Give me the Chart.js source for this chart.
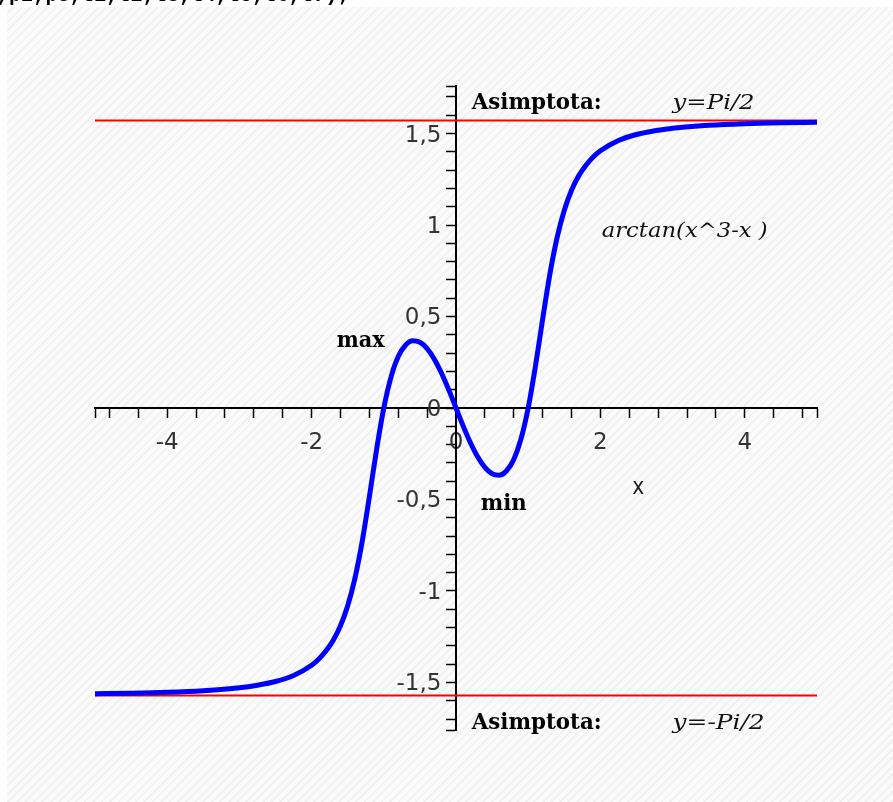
<!DOCTYPE html>
<html>
<head>
<meta charset="utf-8">
<script src="https://cdn.jsdelivr.net/npm/chart.js@4.4.0/dist/chart.umd.min.js"></script>
<style>
  html, body { margin: 0; padding: 0; background: #fff; overflow: hidden; }
  #panel {
    position: absolute; left: 7px; top: 7px; width: 886px; height: 795px;
    background: repeating-linear-gradient(135deg, #fbfbfb 0px, #fbfbfb 4px, #f1f1f1 4px, #f1f1f1 6px);
  }
  #cmd {
    position: absolute; left: -125px; top: -14px; white-space: pre;
    font: bold 20.3px "Liberation Mono", monospace; line-height: 20px; color: #000; z-index: 2;
  }
  #plot { position: absolute; left: 0; top: 0; z-index: 1; }
</style>
</head>
<body>
<div id="panel"></div>
<div id="cmd">display(p1,p2,p3,t1,t2,t3,t4,t5,t6,t7);</div>
<canvas id="plot" width="893" height="802"></canvas>
<script>
// ---------------- DATOS ----------------
const curveX = [-5, -4.5, -4, -3.5, -3, -2.75, -2.5, -2.25, -2, -1.9, -1.8, -1.7, -1.6, -1.5, -1.4, -1.3, -1.2, -1.1, -1,
  -0.9, -0.8, -0.7, -0.6, -0.5, -0.4, -0.3, -0.2, -0.1, 0, 0.1, 0.2, 0.3, 0.4, 0.5, 0.6, 0.7, 0.8, 0.9,
  1, 1.1, 1.2, 1.3, 1.4, 1.5, 1.6, 1.7, 1.8, 1.9, 2, 2.25, 2.5, 2.75, 3, 3.5, 4, 4.5, 5];
const curveY = [-1.562, -1.559, -1.554, -1.545, -1.529, -1.515, -1.495, -1.462, -1.406, -1.372, -1.327, -1.269, -1.190, -1.081, -0.931, -0.731, -0.486, -0.227, 0,
  0.169, 0.281, 0.343, 0.367, 0.359, 0.325, 0.267, 0.190, 0.099, 0, -0.099, -0.190, -0.267, -0.325, -0.359, -0.367, -0.343, -0.281, -0.169,
  0, 0.227, 0.486, 0.731, 0.931, 1.081, 1.190, 1.269, 1.327, 1.372, 1.406, 1.462, 1.495, 1.515, 1.529, 1.545, 1.554, 1.559, 1.562];

const asymptoteX = [-5, 5];
const asymptoteTop = 1.5708;     // y = Pi/2
const asymptoteBottom = -1.5708; // y = -Pi/2

const xRange = [-5, 5];
const yRange = [-1.76, 1.76];
const xLabelTicks = [-4, -2, 0, 2, 4];
const yLabelTicks = [-1.5, -1, -0.5, 0, 0.5, 1, 1.5];
const xMinorStep = 0.4;
const yMinorStep = 0.1;

// ---------------- Textos del gráfico ----------------
const notes = [
  { text: 'Asimptota:',      x: 0.217, y: 1.632,  font: 'bold 23px "DejaVu Serif"',   w: 130, color: '#000' },
  { text: 'y=Pi/2',          x: 3.0,   y: 1.632,  font: 'italic 20px "DejaVu Serif"', w: 82,  color: '#111' },
  { text: 'arctan(x^3-x )',  x: 2.018, y: 0.936,  font: 'italic 20px "DejaVu Serif"', w: 166, color: '#111' },
  { text: 'max',             x: -1.652, y: 0.335, font: 'bold 23px "DejaVu Serif"',   w: 48,  color: '#000' },
  { text: 'min',             x: 0.342, y: -0.557, font: 'bold 23px "DejaVu Serif"',   w: 46,  color: '#000' },
  { text: 'x',               x: 2.44,  y: -0.47,  font: '23px "DejaVu Sans"',         w: 12,  color: '#222' },
  { text: 'Asimptota:',      x: 0.217, y: -1.756, font: 'bold 23px "DejaVu Serif"',   w: 130, color: '#000' },
  { text: 'y=-Pi/2',         x: 3.0,   y: -1.754, font: 'italic 20px "DejaVu Serif"', w: 92,  color: '#111' }
];

const toPoints = (xs, ys) => xs.map((x, i) => ({ x: x, y: ys[i] }));
const isLabelled = (v, list) => list.some(l => Math.abs(l - v) < 1e-6);
const fmt = v => String(v).replace('.', ',');

function minorTicks(range, step) {
  const out = [range[0]];
  const n = Math.floor(range[1] / step + 1e-9);
  for (let i = -n; i <= n; i++) out.push(Math.round(i * step * 10) / 10);
  out.push(range[1]);
  return out.map(v => ({ value: v }));
}

// ---------------- Plugin de anotaciones ----------------
const notesPlugin = {
  id: 'notes',
  afterDatasetsDraw(chart) {
    const ctx = chart.ctx;
    const xs = chart.scales.x, ys = chart.scales.y;
    notes.forEach(n => {
      ctx.save();
      ctx.font = n.font;
      ctx.fillStyle = n.color;
      ctx.textAlign = 'left';
      ctx.textBaseline = 'alphabetic';
      const mw = ctx.measureText(n.text).width;
      ctx.translate(xs.getPixelForValue(n.x), ys.getPixelForValue(n.y));
      ctx.scale(n.w / mw, 1);
      ctx.fillText(n.text, 0, 0);
      ctx.restore();
    });
  }
};

const tickFont = { family: 'DejaVu Sans', size: 23 };

new Chart(document.getElementById('plot').getContext('2d'), {
  type: 'scatter',
  data: {
    datasets: [
      {
        label: 'arctan(x^3-x)',
        data: toPoints(curveX, curveY),
        showLine: true,
        borderColor: '#0000ff',
        borderWidth: 5,
        pointRadius: 0,
        cubicInterpolationMode: 'monotone'
      },
      {
        label: 'y=Pi/2',
        data: toPoints(asymptoteX, asymptoteX.map(() => asymptoteTop)),
        showLine: true,
        borderColor: '#ff0000',
        borderWidth: 2,
        pointRadius: 0
      },
      {
        label: 'y=-Pi/2',
        data: toPoints(asymptoteX, asymptoteX.map(() => asymptoteBottom)),
        showLine: true,
        borderColor: '#ff0000',
        borderWidth: 2,
        pointRadius: 0
      }
    ]
  },
  options: {
    responsive: false,
    animation: false,
    devicePixelRatio: 1,
    layout: { padding: { left: 95, right: 76, top: 86, bottom: 72 } },
    plugins: { legend: { display: false }, tooltip: { enabled: false } },
    scales: {
      x: {
        type: 'linear',
        position: { y: 0 },
        min: xRange[0],
        max: xRange[1],
        afterBuildTicks: s => { s.ticks = minorTicks(xRange, xMinorStep); },
        ticks: {
          autoSkip: false, maxRotation: 0, minRotation: 0,
          padding: 12, color: '#333', font: tickFont,
          callback: v => isLabelled(v, xLabelTicks) ? fmt(v) : ''
        },
        grid: { drawOnChartArea: false, drawTicks: true, tickLength: 9, tickWidth: 1.5, tickColor: '#000' },
        border: { display: true, color: '#000', width: 2 }
      },
      y: {
        type: 'linear',
        position: { x: 0 },
        min: yRange[0],
        max: yRange[1],
        afterBuildTicks: s => { s.ticks = minorTicks(yRange, yMinorStep); },
        ticks: {
          autoSkip: false,
          labelOffset: 2, color: '#333', font: tickFont,
          // el eje centrado no aplica padding: se deja hueco con espacios finales
          callback: v => isLabelled(v, yLabelTicks) ? fmt(v) + '  ' : ''
        },
        grid: { drawOnChartArea: false, drawTicks: true, tickLength: 9, tickWidth: 1.5, tickColor: '#000' },
        border: { display: true, color: '#000', width: 2 }
      }
    }
  },
  plugins: [notesPlugin]
});
</script>
</body>
</html>
